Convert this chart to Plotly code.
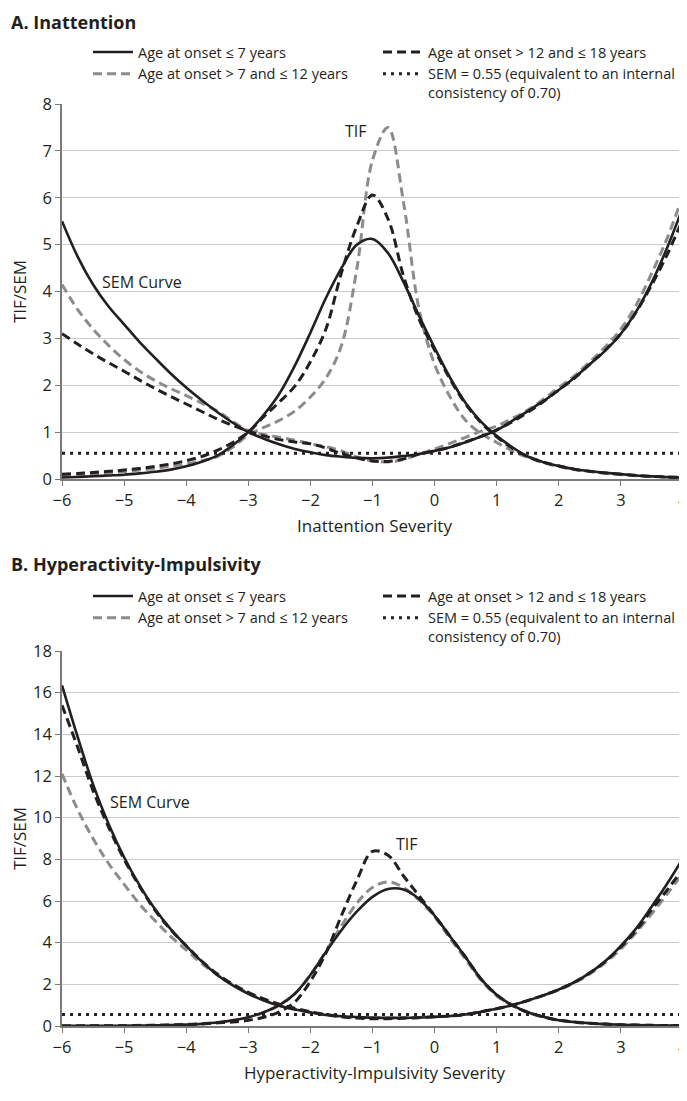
import plotly.graph_objects as go

# The page body has an 8px margin, so the figure is sized to fill the rest of the window.
OFF = 8
W, H = 687 - OFF, 1101 - OFF
FONT = "Open Sans"
INK = "#231f20"
GRAY = "#8c8c8c"
GRID = "#c9c9c9"
AXIS = "#7a7a7a"

# ---------------- common severity grid (theta) ----------------
theta = [-6, -5.75, -5.5, -5.25, -5, -4.75, -4.5, -4.25, -4, -3.75, -3.5, -3.25, -3, -2.75, -2.5, -2.25,
         -2, -1.75, -1.5, -1.25, -1, -0.75, -0.5, -0.25, 0, 0.25, 0.5, 0.75, 1, 1.25, 1.5, 1.75,
         2, 2.25, 2.5, 2.75, 3, 3.25, 3.5, 3.75, 4]

# ---------------- data: panel A (Inattention) ----------------
tifA_le7 = [0.033, 0.044, 0.058, 0.074, 0.092, 0.12, 0.154, 0.2, 0.27, 0.37, 0.5, 0.72, 1.0, 1.37, 1.82, 2.42,
            3.12, 3.86, 4.5, 5.0, 5.12, 4.82, 4.2, 3.48, 2.8, 2.16, 1.62, 1.22, 0.92, 0.68, 0.48, 0.36,
            0.28, 0.21, 0.167, 0.13, 0.104, 0.075, 0.055, 0.04, 0.03]
semA_le7 = [5.5, 4.75, 4.15, 3.68, 3.3, 2.92, 2.58, 2.25, 1.95, 1.68, 1.43, 1.2, 1.0, 0.86, 0.74, 0.64,
            0.57, 0.51, 0.475, 0.45, 0.442, 0.455, 0.49, 0.535, 0.6, 0.68, 0.785, 0.905, 1.04, 1.24, 1.45, 1.66,
            1.9, 2.16, 2.45, 2.74, 3.1, 3.58, 4.2, 4.95, 5.8]

tifA_7to12 = [0.065, 0.08, 0.1, 0.125, 0.155, 0.19, 0.227, 0.27, 0.32, 0.39, 0.48, 0.68, 0.94, 1.1, 1.25, 1.45,
              1.75, 2.15, 2.85, 4.5, 6.8, 7.5, 5.9, 3.62, 2.45, 1.75, 1.25, 0.97, 0.78, 0.6, 0.46, 0.35,
              0.265, 0.2, 0.16, 0.125, 0.097, 0.072, 0.052, 0.038, 0.027]
semA_7to12 = [4.15, 3.62, 3.2, 2.85, 2.55, 2.3, 2.1, 1.93, 1.78, 1.62, 1.45, 1.23, 1.03, 0.95, 0.89, 0.83,
              0.75, 0.69, 0.6, 0.47, 0.385, 0.365, 0.415, 0.53, 0.64, 0.76, 0.89, 1.02, 1.13, 1.29, 1.47, 1.7,
              1.95, 2.2, 2.5, 2.82, 3.2, 3.72, 4.4, 5.15, 6.05]

tifA_12to18 = [0.104, 0.12, 0.14, 0.163, 0.19, 0.225, 0.27, 0.32, 0.39, 0.48, 0.61, 0.78, 1.0, 1.33, 1.64, 1.98,
               2.5, 3.2, 4.4, 5.4, 6.06, 5.55, 4.33, 3.41, 2.75, 2.13, 1.6, 1.2, 0.9, 0.66, 0.48, 0.36,
               0.28, 0.21, 0.165, 0.13, 0.1, 0.077, 0.058, 0.043, 0.032]
semA_12to18 = [3.1, 2.88, 2.67, 2.48, 2.3, 2.11, 1.93, 1.76, 1.6, 1.44, 1.28, 1.14, 1.02, 0.92, 0.84, 0.79,
               0.75, 0.66, 0.54, 0.45, 0.385, 0.375, 0.43, 0.53, 0.6, 0.68, 0.79, 0.91, 1.05, 1.22, 1.42, 1.65,
               1.9, 2.15, 2.45, 2.75, 3.1, 3.57, 4.15, 4.8, 5.55]

# ---------------- data: panel B (Hyperactivity-Impulsivity) ----------------
tifB_le7 = [0.004, 0.005, 0.007, 0.01, 0.015, 0.021, 0.03, 0.045, 0.066, 0.1, 0.17, 0.27, 0.42, 0.66, 1.0, 1.55,
            2.45, 3.55, 4.6, 5.5, 6.2, 6.58, 6.55, 6.1, 5.3, 4.3, 3.3, 2.25, 1.5, 1.0, 0.66, 0.44,
            0.28, 0.19, 0.13, 0.09, 0.06, 0.042, 0.03, 0.022, 0.016]
semB_le7 = [16.35, 13.9, 11.6, 9.7, 8.1, 6.75, 5.6, 4.65, 3.85, 3.1, 2.45, 1.95, 1.55, 1.22, 0.97, 0.79,
            0.66, 0.53, 0.47, 0.43, 0.4, 0.39, 0.39, 0.405, 0.44, 0.48, 0.55, 0.68, 0.83, 1.0, 1.22, 1.47,
            1.75, 2.1, 2.55, 3.12, 3.85, 4.7, 5.75, 6.85, 8.05]

tifB_7to12 = [0.007, 0.009, 0.012, 0.016, 0.021, 0.03, 0.04, 0.055, 0.075, 0.11, 0.17, 0.26, 0.4, 0.65, 1.02, 1.55,
              2.45, 3.6, 4.8, 5.9, 6.65, 6.92, 6.65, 6.05, 5.25, 4.2, 3.2, 2.2, 1.45, 0.98, 0.65, 0.43,
              0.28, 0.19, 0.13, 0.09, 0.06, 0.042, 0.03, 0.023, 0.018]
semB_7to12 = [12.1, 10.4, 9.0, 7.8, 6.8, 5.85, 5.05, 4.3, 3.65, 3.0, 2.45, 1.98, 1.58, 1.25, 0.98, 0.8,
              0.65, 0.53, 0.45, 0.41, 0.385, 0.38, 0.39, 0.41, 0.44, 0.49, 0.56, 0.69, 0.84, 1.0, 1.22, 1.46,
              1.73, 2.07, 2.5, 3.05, 3.7, 4.5, 5.4, 6.35, 7.35]

tifB_12to18 = [0.004, 0.005, 0.008, 0.011, 0.014, 0.02, 0.03, 0.045, 0.065, 0.1, 0.15, 0.19, 0.27, 0.42, 0.68, 1.15,
               2.15, 3.5, 5.3, 7.0, 8.38, 8.2, 7.2, 6.25, 5.3, 4.3, 3.3, 2.25, 1.5, 1.0, 0.66, 0.44,
               0.28, 0.19, 0.13, 0.09, 0.06, 0.042, 0.03, 0.022, 0.016]
semB_12to18 = [15.4, 13.4, 11.3, 9.55, 8.0, 6.7, 5.55, 4.62, 3.85, 3.12, 2.5, 2.0, 1.62, 1.3, 1.05, 0.85,
               0.68, 0.55, 0.44, 0.38, 0.35, 0.35, 0.375, 0.4, 0.44, 0.48, 0.55, 0.68, 0.83, 1.0, 1.22, 1.47,
               1.75, 2.1, 2.55, 3.1, 3.8, 4.6, 5.6, 6.55, 7.55]

SEM_REF = 0.55
X_RANGE = [-6, 4.065]
X_TICKS = [-6, -5, -4, -3, -2, -1, 0, 1, 2, 3, 4]
Y_TICKS_A = [0, 1, 2, 3, 4, 5, 6, 7, 8]
Y_TICKS_B = [0, 2, 4, 6, 8, 10, 12, 14, 16, 18]

LEG_LE7 = "Age at onset ≤ 7 years"
LEG_7TO12 = "Age at onset > 7 and ≤ 12 years"
LEG_12TO18 = "Age at onset > 12 and ≤ 18 years"
LEG_SEM = "SEM = 0.55 (equivalent to an internal<br>consistency of 0.70)"

styles = {
    "le7": dict(color=INK, width=2.6, dash="solid"),
    "7to12": dict(color=GRAY, width=3.0, dash="9px,5px"),
    "12to18": dict(color=INK, width=3.0, dash="9px,5px"),
}


def fx(p):
    """page pixel x -> paper fraction"""
    return (p - OFF) / W


def fy(p):
    """page pixel y -> paper fraction"""
    return 1 - (p - OFF) / H


fig = go.Figure()


def add_panel(groups, xa, ya, leg_right):
    # groups: (style key, label, tif, sem, legend id, rank)
    for key, label, tif, sem, leg, rank in groups:
        st = styles[key]
        line = dict(color=st["color"], width=st["width"], dash=st["dash"], shape="spline", smoothing=1)
        fig.add_trace(go.Scatter(
            x=theta, y=tif, mode="lines", name=label, legendgroup=leg + key,
            legend=leg, legendrank=rank, showlegend=True, line=line,
            xaxis=xa, yaxis=ya, hoverinfo="skip"))
        fig.add_trace(go.Scatter(
            x=theta, y=sem, mode="lines", name=label, legendgroup=leg + key,
            legend=leg, showlegend=False, line=line,
            xaxis=xa, yaxis=ya, hoverinfo="skip"))
    fig.add_trace(go.Scatter(
        x=X_RANGE, y=[SEM_REF, SEM_REF], mode="lines", name=LEG_SEM,
        legend=leg_right, legendrank=2, showlegend=True,
        line=dict(color=INK, width=3, dash="3px,5px"),
        xaxis=xa, yaxis=ya, hoverinfo="skip"))


add_panel([
    ("7to12", LEG_7TO12, tifA_7to12, semA_7to12, "legend", 2),
    ("le7", LEG_LE7, tifA_le7, semA_le7, "legend", 1),
    ("12to18", LEG_12TO18, tifA_12to18, semA_12to18, "legend2", 1),
], "x", "y", "legend2")

add_panel([
    ("7to12", LEG_7TO12, tifB_7to12, semB_7to12, "legend3", 2),
    ("le7", LEG_LE7, tifB_le7, semB_le7, "legend3", 1),
    ("12to18", LEG_12TO18, tifB_12to18, semB_12to18, "legend4", 1),
], "x2", "y2", "legend4")

tickfont = dict(family=FONT, size=16.5, color=INK)
titlefont = dict(family=FONT, size=17, color=INK)

xcommon = dict(range=X_RANGE, tickvals=X_TICKS, showgrid=False, zeroline=False,
               showline=True, linecolor=AXIS, linewidth=2, ticks="outside", ticklen=5,
               tickcolor=AXIS, tickwidth=1, tickfont=tickfont, automargin=False,
               ticklabeloverflow="allow", domain=[fx(62), 1.0])
ycommon = dict(showgrid=True, gridcolor=GRID, gridwidth=1.3, zeroline=False,
               showline=True, linecolor=AXIS, linewidth=1.5, ticks="outside", ticklen=5,
               tickcolor=AXIS, tickwidth=1, tickfont=tickfont, automargin=False)

legend_common = dict(orientation="v", xanchor="left", yanchor="top", bgcolor="rgba(0,0,0,0)",
                     font=dict(family=FONT, size=14.5, color=INK), itemwidth=40,
                     traceorder="normal", valign="top", tracegroupgap=0,
                     itemclick=False, itemdoubleclick=False)

title_font = dict(family=FONT, size=18, color=INK)

fig.update_layout(
    width=W, height=H, margin=dict(l=0, r=0, t=0, b=0),
    paper_bgcolor="white", plot_bgcolor="white",
    font=dict(family=FONT, color=INK),
    showlegend=True,
    xaxis=dict(**xcommon, anchor="y",
               title=dict(text="Inattention Severity", font=titlefont, standoff=10)),
    yaxis=dict(**ycommon, range=[0, 8], tickvals=Y_TICKS_A, anchor="x",
               domain=[fy(479), fy(104)],
               title=dict(text="TIF/SEM", font=titlefont, standoff=21)),
    xaxis2=dict(**xcommon, anchor="y2",
                title=dict(text="Hyperactivity-Impulsivity Severity", font=titlefont, standoff=10)),
    yaxis2=dict(**ycommon, range=[0, 18], tickvals=Y_TICKS_B, anchor="x2",
                domain=[fy(1026), fy(651)],
                title=dict(text="TIF/SEM", font=titlefont, standoff=13)),
    legend=dict(**legend_common, x=fx(88), y=fy(36)),
    legend2=dict(**legend_common, x=fx(378), y=fy(36)),
    legend3=dict(**legend_common, x=fx(88), y=fy(580)),
    legend4=dict(**legend_common, x=fx(378), y=fy(580)),
    annotations=[
        dict(text="<b>A. Inattention</b>", x=fx(9), y=1.0, xref="paper", yref="paper",
             xanchor="left", yanchor="top", showarrow=False, font=title_font),
        dict(text="<b>B. Hyperactivity-Impulsivity</b>", x=fx(9), y=fy(564), xref="paper", yref="paper",
             xanchor="left", yanchor="middle", showarrow=False, font=title_font),
        dict(text="SEM Curve", x=-5.39, y=4.2, xref="x", yref="y", xanchor="left", yanchor="middle",
             showarrow=False, font=dict(family=FONT, size=16, color=INK)),
        dict(text="TIF", x=-1.48, y=7.42, xref="x", yref="y", xanchor="left", yanchor="middle",
             showarrow=False, font=dict(family=FONT, size=16, color=INK)),
        dict(text="SEM Curve", x=-5.26, y=10.73, xref="x2", yref="y2", xanchor="left", yanchor="middle",
             showarrow=False, font=dict(family=FONT, size=16, color=INK)),
        dict(text="TIF", x=-0.66, y=8.75, xref="x2", yref="y2", xanchor="left", yanchor="middle",
             showarrow=False, font=dict(family=FONT, size=16, color=INK)),
    ],
)

fig.write_html("out.html")
